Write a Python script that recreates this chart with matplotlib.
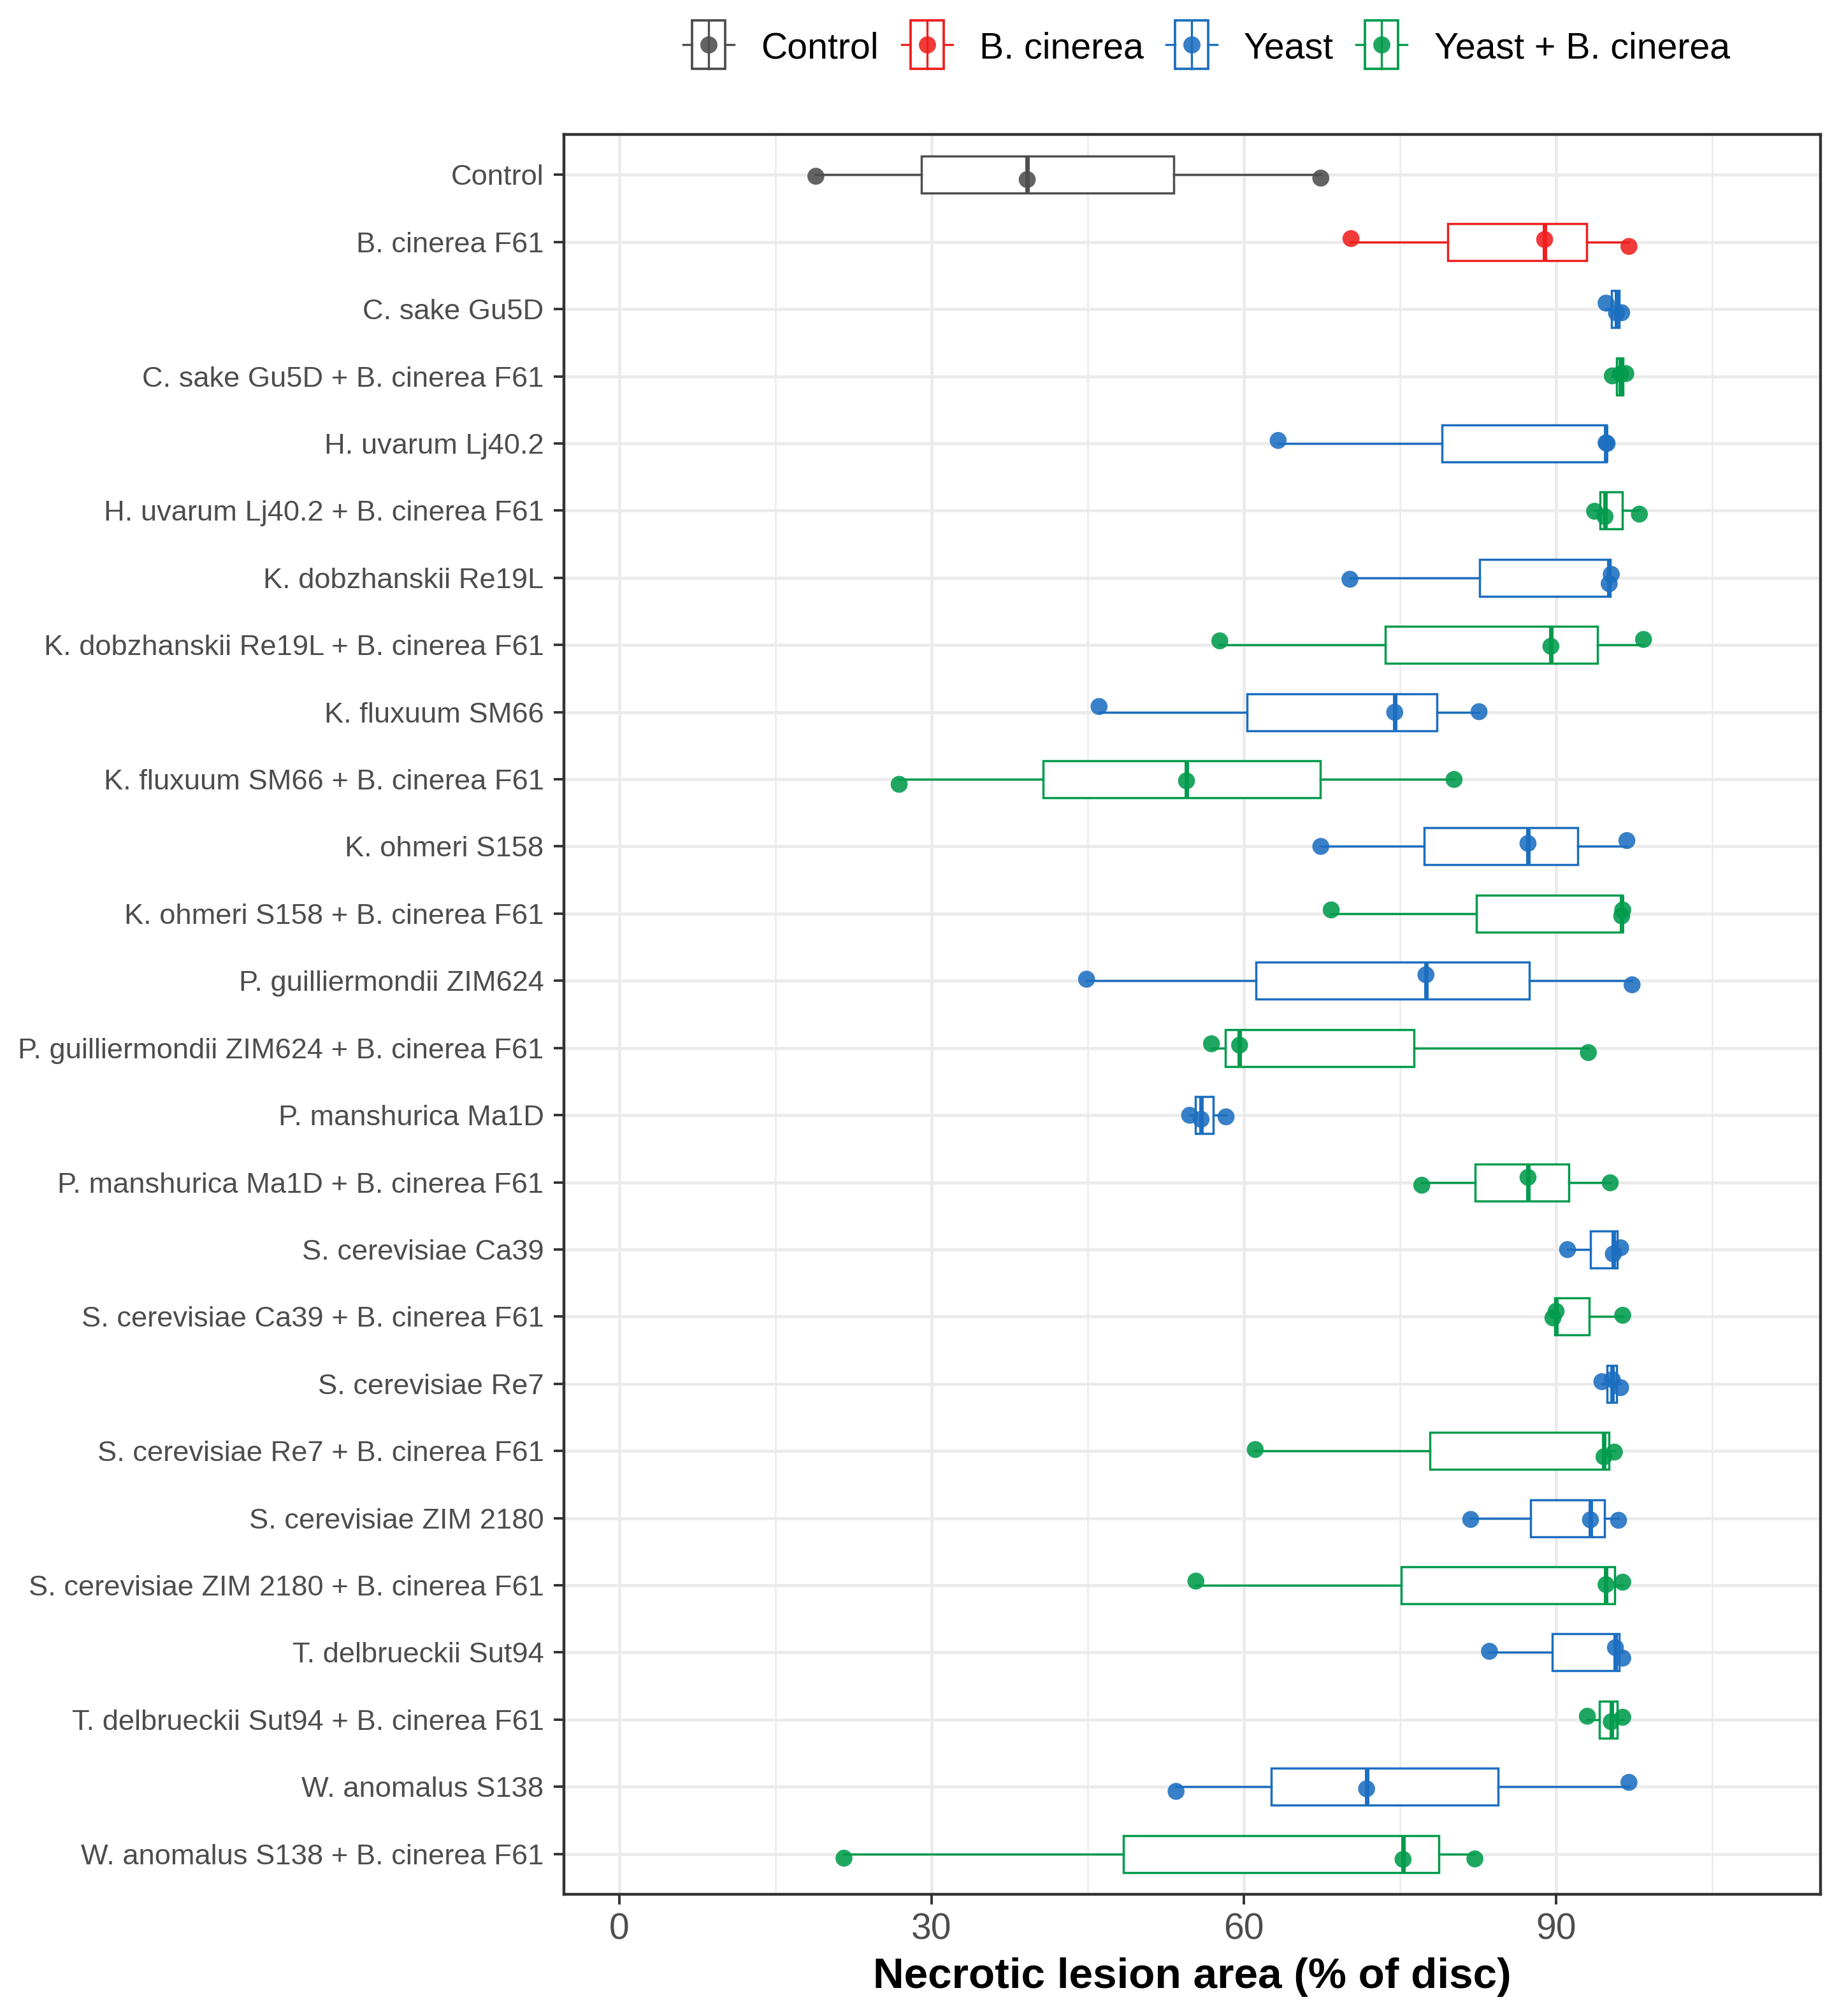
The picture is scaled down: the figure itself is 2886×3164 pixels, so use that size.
import numpy as np
import matplotlib
matplotlib.use('Agg')
import matplotlib.pyplot as plt
from matplotlib.patches import Rectangle
from matplotlib.lines import Line2D

plt.rcParams['font.family'] = ['Liberation Sans', 'DejaVu Sans']

# ---------------- data ----------------
categories = [
    "Control",
    "B. cinerea F61",
    "C. sake Gu5D",
    "C. sake Gu5D + B. cinerea F61",
    "H. uvarum Lj40.2",
    "H. uvarum Lj40.2 + B. cinerea F61",
    "K. dobzhanskii Re19L",
    "K. dobzhanskii Re19L + B. cinerea F61",
    "K. fluxuum SM66",
    "K. fluxuum SM66 + B. cinerea F61",
    "K. ohmeri S158",
    "K. ohmeri S158 + B. cinerea F61",
    "P. guilliermondii ZIM624",
    "P. guilliermondii ZIM624 + B. cinerea F61",
    "P. manshurica Ma1D",
    "P. manshurica Ma1D + B. cinerea F61",
    "S. cerevisiae Ca39",
    "S. cerevisiae Ca39 + B. cinerea F61",
    "S. cerevisiae Re7",
    "S. cerevisiae Re7 + B. cinerea F61",
    "S. cerevisiae ZIM 2180",
    "S. cerevisiae ZIM 2180 + B. cinerea F61",
    "T. delbrueckii Sut94",
    "T. delbrueckii Sut94 + B. cinerea F61",
    "W. anomalus S138",
    "W. anomalus S138 + B. cinerea F61",
]

groups = ["Control", "B. cinerea"] + ["Yeast", "Yeast + B. cinerea"] * 12

# necrotic lesion area (% of disc), three replicates per treatment
lesion_values = [
    [18.9, 39.2, 67.4],
    [70.3, 88.9, 97.0],
    [94.8, 95.8, 96.3],
    [95.4, 96.2, 96.7],
    [63.3, 94.8, 94.9],
    [93.7, 94.7, 98.0],
    [70.2, 95.1, 95.3],
    [57.7, 89.5, 98.4],
    [46.1, 74.5, 82.6],
    [26.9, 54.5, 80.2],
    [67.4, 87.3, 96.8],
    [68.4, 96.3, 96.4],
    [44.9, 77.5, 97.3],
    [56.9, 59.6, 93.1],
    [54.8, 55.9, 58.3],
    [77.1, 87.3, 95.2],
    [91.1, 95.5, 96.2],
    [89.7, 90.0, 96.4],
    [94.4, 95.4, 96.2],
    [61.1, 94.6, 95.6],
    [81.8, 93.3, 96.0],
    [55.4, 94.8, 96.4],
    [83.6, 95.7, 96.4],
    [93.0, 95.3, 96.4],
    [53.5, 71.8, 97.0],
    [21.6, 75.3, 82.2],
]

legend_labels = ["Control", "B. cinerea", "Yeast", "Yeast + B. cinerea"]
x_ticks = [0, 30, 60, 90]
x_minor = [15, 45, 75, 105]

# ---------------- style ----------------
group_colors = {
    "Control": "#4D4D4D",
    "B. cinerea": "#F01E1E",
    "Yeast": "#1C6EC0",
    "Yeast + B. cinerea": "#009B4C",
}

W, H = 2886, 3164
DPI = 200
fig = plt.figure(figsize=(W / DPI, H / DPI), dpi=DPI)

ax_l, ax_r, ax_t, ax_b = 885, 2857, 211, 2973
ax = fig.add_axes([ax_l / W, 1 - ax_b / H, (ax_r - ax_l) / W, (ax_b - ax_t) / H])

rng = np.random.default_rng(7)
box_lw = 1.25
for i, (vals, grp) in enumerate(zip(lesion_values, groups)):
    c = group_colors[grp]
    ax.boxplot([vals], positions=[i], widths=0.55, orientation='horizontal',
               patch_artist=True, showcaps=False, showfliers=False,
               whis=(0, 100), manage_ticks=False,
               boxprops=dict(facecolor='white', edgecolor=c, linewidth=box_lw),
               whiskerprops=dict(color=c, linewidth=box_lw),
               medianprops=dict(color=c, linewidth=box_lw * 2.0),
               zorder=3)
    jit = rng.uniform(-0.09, 0.09, size=len(vals))
    ax.scatter(vals, i + jit, s=92, color=c, alpha=0.88, edgecolors='none', zorder=4)

ax.set_xlim(-5.3, 115.4)
ax.set_ylim(len(categories) - 0.4, -0.6)
ax.set_yticks(range(len(categories)))
ax.set_yticklabels(categories)
ax.set_xticks(x_ticks)
ax.set_xticks(x_minor, minor=True)

ax.set_axisbelow(True)
ax.grid(which='major', axis='both', color='#EBEBEB', linewidth=1.7, zorder=0)
ax.grid(which='minor', axis='x', color='#EBEBEB', linewidth=0.9, zorder=0)

ax.tick_params(axis='both', which='major', direction='out', length=5.8, width=1.4,
               color='#333333', labelcolor='#4D4D4D')
ax.tick_params(axis='y', labelsize=16.3, pad=5.5)
ax.tick_params(axis='x', labelsize=20.5, pad=4.5)
ax.tick_params(which='minor', length=0)
for s in ax.spines.values():
    s.set_color('#333333')
    s.set_linewidth(1.6)

ax.set_xlabel("Necrotic lesion area (% of disc)", fontsize=24.3, fontweight='bold',
              color='black', labelpad=6)

# ---------------- legend (drawn in figure pixel space) ----------------
lg = fig.add_axes([0, 0, 1, 1])
lg.set_xlim(0, W)
lg.set_ylim(H, 0)
lg.axis('off')
lg.patch.set_alpha(0)

key_cx = [1112, 1455, 1870, 2168]
text_x = [1194, 1537, 1952, 2251]
cy = 70
for lab, kx, tx in zip(legend_labels, key_cx, text_x):
    c = group_colors[lab]
    lg.add_patch(Rectangle((kx - 26, cy - 38), 52, 76, facecolor='white',
                           edgecolor=c, linewidth=1.35))
    lg.add_line(Line2D([kx, kx], [cy - 38, cy + 38], color=c, linewidth=1.2))
    lg.add_line(Line2D([kx - 40, kx - 26], [cy, cy], color=c, linewidth=1.2))
    lg.add_line(Line2D([kx + 26, kx + 40], [cy, cy], color=c, linewidth=1.2))
    lg.plot([kx], [cy], 'o', markersize=9.7, color=c, alpha=0.88, markeredgewidth=0)
    lg.text(tx, cy + 21, lab, fontsize=20.6, color='black', va='baseline', ha='left')

fig.savefig('out.png', dpi=DPI)
